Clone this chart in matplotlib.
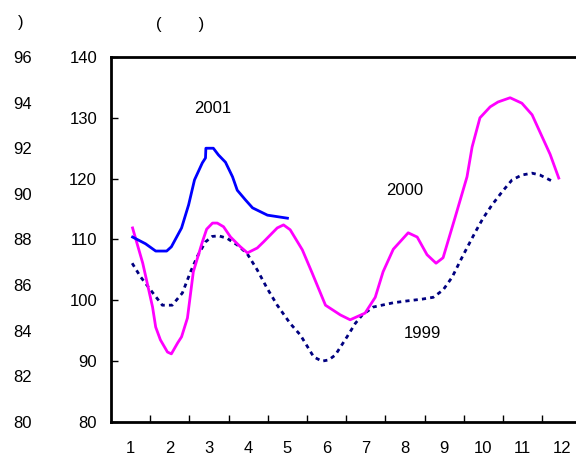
import numpy as np
import matplotlib.pyplot as plt

plt.rcParams['font.family'] = ['Liberation Sans', 'DejaVu Sans']

months = list(range(1, 13))
left_scale = [80, 82, 84, 86, 88, 90, 92, 94, 96]

# 2001 (blue)
x2001 = [1.05, 1.38, 1.64, 1.92, 2.04, 2.30, 2.48, 2.63, 2.83, 2.91, 2.92,
         3.11, 3.24, 3.42, 3.60, 3.72, 3.93, 4.11, 4.49, 5.00]
y2001 = [110.4, 109.3, 108.1, 108.1, 108.8, 111.9, 115.7, 119.8, 122.6, 123.4, 125.0,
         125.0, 123.9, 122.7, 120.3, 118.1, 116.5, 115.2, 114.0, 113.5]

# 2000 (magenta)
x2000 = [1.05, 1.31, 1.56, 1.64, 1.76, 1.94, 2.04, 2.20, 2.30, 2.45, 2.60, 2.83,
         2.94, 3.09, 3.21, 3.37, 3.55, 3.80, 3.98, 4.23, 4.39, 4.74, 4.90, 5.07,
         5.38, 5.63, 5.97, 6.35, 6.60, 6.98, 7.24, 7.44, 7.70, 8.08, 8.31, 8.56,
         8.79, 8.97, 9.28, 9.58, 9.71, 9.91, 10.17, 10.37, 10.68, 10.98, 11.24,
         11.36, 11.70, 11.92]
y2000 = [111.9, 106.1, 98.9, 95.6, 93.5, 91.5, 91.2, 93.0, 94.0, 97.1, 104.7, 109.6,
         111.7, 112.7, 112.7, 112.1, 110.4, 108.8, 107.8, 108.6, 109.6, 111.9, 112.4, 111.6,
         108.3, 104.5, 99.2, 97.6, 96.8, 97.9, 100.5, 104.7, 108.4, 111.1, 110.4, 107.5,
         106.1, 107.0, 113.7, 120.3, 125.2, 130.0, 131.8, 132.6, 133.3, 132.4, 130.5,
         128.8, 124.0, 120.1]

# 1999 (navy, dashed)
x1999 = [1.04, 1.25, 1.51, 1.81, 2.06, 2.32, 2.53, 2.70, 2.91, 3.08, 3.25, 3.46,
         3.72, 3.97, 4.23, 4.48, 4.74, 5.07, 5.33, 5.67, 5.88, 6.05, 6.22, 6.39,
         6.52, 6.73, 6.91, 7.19, 7.70, 8.05, 8.44, 8.72, 8.97, 9.20, 9.48, 9.79,
         9.99, 10.22, 10.47, 10.73, 10.98, 11.24, 11.44, 11.75]
y1999 = [106.1, 103.9, 101.7, 99.2, 99.2, 101.2, 104.7, 107.2, 109.6, 110.5, 110.6, 110.2,
         109.1, 107.7, 105.0, 102.0, 99.2, 96.2, 94.3, 90.7, 90.0, 90.2, 91.0, 92.7,
         94.0, 96.2, 97.6, 98.9, 99.6, 99.9, 100.2, 100.5, 101.7, 103.8, 107.4, 111.2,
         113.5, 115.7, 117.8, 119.8, 120.6, 120.9, 120.6, 119.6]

fig = plt.figure(figsize=(5.76, 4.61), dpi=100)
ax = fig.add_axes([0.1927, 0.0846, 0.8073, 0.7918])

ax.plot(x1999, y1999, color='#000080', lw=2, linestyle=(0, (1.5, 1.5)))
ax.plot(x2000, y2000, color='#ff00ff', lw=2)
ax.plot(x2001, y2001, color='#0000ff', lw=2)

ax.text(3.1, 131.5, '2001', fontsize=12, ha='center', va='center')
ax.text(8.0, 118.0, '2000', fontsize=12, ha='center', va='center')
ax.text(8.45, 94.5, '1999', fontsize=12, ha='center', va='center')

ax.set_xlim(0.5, 12.36)
ax.set_ylim(80, 140)
ax.set_yticks(range(80, 141, 10))
ax.set_xticks(months)
ax.set_xticks(np.arange(1.5, 12, 1), minor=True)
ax.tick_params(axis='x', which='major', length=0, pad=14, labelsize=12)
ax.tick_params(axis='x', which='minor', direction='in', length=5, width=1)
ax.tick_params(axis='y', direction='in', length=5, width=1, pad=10, labelsize=12)
for s in ['left', 'bottom', 'top']:
    ax.spines[s].set_linewidth(2)
ax.spines['right'].set_visible(False)

# second scale printed at the far left
ax2 = ax.twinx()
ax2.set_ylim(80, 96)
ax2.set_yticks(left_scale)
ax2.tick_params(axis='y', length=0, pad=57, labelsize=12,
                left=False, right=False, labelleft=True, labelright=False)
for s in ax2.spines.values():
    s.set_visible(False)

fig.text(21 / 576, 1 - 22 / 461, ')', fontsize=12, ha='center', va='center')
fig.text(180 / 576, 1 - 25 / 461, '(        )', fontsize=12, ha='center', va='center')

fig.savefig('out.png', dpi=100)
